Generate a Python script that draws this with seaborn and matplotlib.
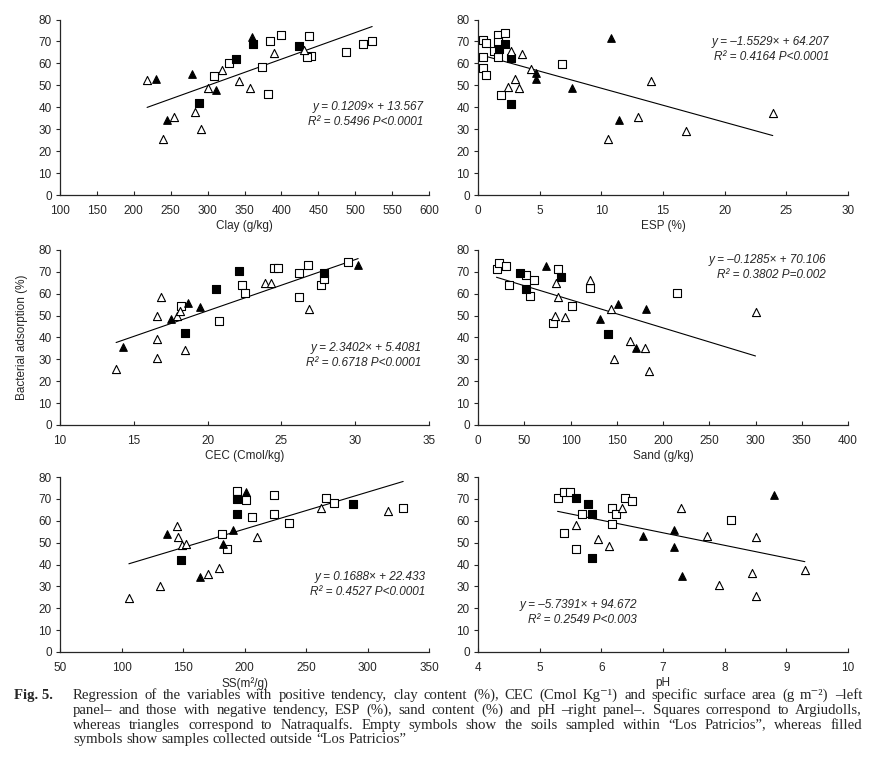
import numpy as np
import pandas as pd
import matplotlib
matplotlib.use("Agg")
import matplotlib.pyplot as plt
import seaborn as sns

# ---- data (x, y) per group ----
# groups: os = open square (Argiudoll, inside), fs = filled square (Argiudoll, outside)
#         ot = open triangle (Natraqualf, inside), ft = filled triangle (Natraqualf, outside)

clay_os_x = [309, 329, 374, 382, 385, 400, 438, 440, 435, 488, 510, 523]
clay_os_y = [54.3, 60.2, 58.4, 46.0, 70.0, 73.0, 72.4, 63.3, 62.7, 65.2, 68.8, 70.1]
clay_fs_x = [289, 339, 362, 424]
clay_fs_y = [41.8, 62.2, 68.9, 68.1]
clay_ot_x = [218, 240, 255, 283, 291, 300, 320, 342, 357, 390, 431]
clay_ot_y = [52.6, 25.5, 35.5, 37.8, 30.2, 48.9, 57.2, 51.8, 48.6, 64.6, 66.0]
clay_ft_x = [230, 245, 279, 311, 360]
clay_ft_y = [52.9, 34.3, 55.0, 48.0, 72.0]

esp_os_x = [0.43, 0.65, 0.38, 0.38, 0.65, 1.6, 2.15, 1.6, 1.33, 1.6, 1.85, 6.8]
esp_os_y = [70.5, 69.5, 62.9, 58.0, 54.5, 73.0, 73.9, 69.6, 65.6, 62.9, 45.6, 59.8]
esp_fs_x = [2.15, 1.71, 2.69, 2.69]
esp_fs_y = [69.0, 66.7, 62.6, 41.5]
esp_ot_x = [2.69, 3.56, 4.3, 3.02, 2.42, 3.34, 14.0, 13.0, 10.5, 16.9, 23.9]
esp_ot_y = [65.5, 64.4, 57.4, 53.0, 49.3, 48.9, 52.0, 35.5, 25.5, 29.3, 37.5]
esp_ft_x = [4.73, 4.73, 7.6, 10.8, 11.4]
esp_ft_y = [55.6, 53.0, 49.0, 71.7, 34.2]

cec_os_x = [18.2, 20.8, 22.36, 22.55, 24.5, 24.8, 26.2, 26.8, 26.2, 27.7, 27.9, 29.5]
cec_os_y = [54.4, 47.4, 64.0, 60.4, 71.9, 71.9, 69.6, 73.2, 58.7, 64.1, 66.7, 74.6]
cec_fs_x = [18.5, 20.6, 22.16, 27.9]
cec_fs_y = [42.2, 62.4, 70.2, 69.4]
cec_ot_x = [13.8, 16.6, 16.6, 16.6, 16.84, 18.48, 17.9, 18.1, 23.86, 24.3, 26.9]
cec_ot_y = [25.8, 30.4, 39.1, 49.8, 58.3, 34.3, 49.8, 52.0, 65.1, 65.1, 52.9]
cec_ft_x = [14.27, 17.55, 18.7, 19.5, 30.2]
cec_ft_y = [35.6, 48.6, 55.7, 54.1, 73.1]

sand_os_x = [20, 23, 30, 34, 52, 60, 56, 87, 81, 102, 121, 215]
sand_os_y = [71.3, 74.0, 72.8, 63.9, 68.8, 66.2, 58.9, 71.4, 46.5, 54.6, 62.5, 60.5]
sand_fs_x = [45, 52, 90, 140]
sand_fs_y = [69.4, 62.4, 67.7, 41.6]
sand_ot_x = [84, 87, 83, 94, 121, 144, 164, 180, 147, 185, 300]
sand_ot_y = [64.7, 58.3, 49.7, 49.4, 66.5, 52.9, 38.3, 35.3, 30.2, 24.6, 51.6]
sand_ft_x = [73, 132, 151, 182, 171]
sand_ft_y = [72.5, 48.3, 55.4, 53.0, 35.3]

ss_os_x = [193.5, 201, 206, 224, 224, 236, 182, 185.5, 266, 273, 329]
ss_os_y = [73.4, 69.6, 61.5, 71.9, 63.2, 59.1, 54.0, 46.9, 70.2, 68.1, 66.0]
ss_fs_x = [193.5, 193.5, 148, 288]
ss_fs_y = [69.9, 63.2, 42.1, 67.5]
ss_ot_x = [106, 131.5, 145, 146, 149, 152.6, 170, 179, 210, 262, 317]
ss_ot_y = [24.6, 30.2, 57.7, 52.8, 49.0, 49.3, 35.6, 38.3, 52.8, 65.8, 64.4]
ss_ft_x = [137, 164, 182.5, 191, 201]
ss_ft_y = [54.0, 34.5, 49.5, 55.9, 73.1]

ph_os_x = [5.29, 5.39, 5.49, 5.68, 5.39, 5.59, 6.17, 6.23, 6.17, 6.38, 6.49, 8.11]
ph_os_y = [70.5, 73.0, 73.0, 63.2, 54.4, 47.2, 66.0, 63.2, 58.3, 70.5, 68.9, 60.2]
ph_fs_x = [5.59, 5.79, 5.85, 5.85]
ph_fs_y = [70.2, 67.6, 63.2, 42.9]
ph_ot_x = [5.59, 5.95, 6.12, 6.33, 7.29, 7.71, 8.51, 7.91, 8.45, 8.51, 9.3]
ph_ot_y = [58.0, 51.6, 48.5, 66.0, 66.0, 53.1, 52.8, 30.8, 36.0, 25.6, 37.4]
ph_ft_x = [6.68, 7.18, 7.18, 7.31, 8.8]
ph_ft_y = [53.0, 55.7, 47.9, 34.8, 71.8]

# regression coefficients as printed
slopes = [0.1209, -1.5529, 2.3402, -0.1285, 0.1688, -5.7391]
intercepts = [13.567, 64.207, 5.4081, 70.106, 22.433, 94.672]
eq_lines = [
    ("y = 0.1209\u00d7 + 13.567", "R\u00b2 = 0.5496 P<0.0001"),
    ("y = \u20131.5529\u00d7 + 64.207", "R\u00b2 = 0.4164 P<0.0001"),
    ("y = 2.3402\u00d7 + 5.4081", "R\u00b2 = 0.6718 P<0.0001"),
    ("y = \u20130.1285\u00d7 + 70.106", "R\u00b2 = 0.3802 P=0.002"),
    ("y = 0.1688\u00d7 + 22.433", "R\u00b2 = 0.4527 P<0.0001"),
    ("y = \u20135.7391\u00d7 + 94.672", "R\u00b2 = 0.2549 P<0.003"),
]
xlabels = ["Clay (g/kg)", "ESP (%)", "CEC (Cmol/kg)", "Sand (g/kg)", "SS(m\u00b2/g)", "pH"]
xlims = [(100, 600), (0, 30), (10, 35), (0, 400), (50, 350), (4, 10)]
xsteps = [50, 5, 5, 50, 50, 1]

panels = [
    (clay_os_x, clay_os_y, clay_fs_x, clay_fs_y, clay_ot_x, clay_ot_y, clay_ft_x, clay_ft_y),
    (esp_os_x, esp_os_y, esp_fs_x, esp_fs_y, esp_ot_x, esp_ot_y, esp_ft_x, esp_ft_y),
    (cec_os_x, cec_os_y, cec_fs_x, cec_fs_y, cec_ot_x, cec_ot_y, cec_ft_x, cec_ft_y),
    (sand_os_x, sand_os_y, sand_fs_x, sand_fs_y, sand_ot_x, sand_ot_y, sand_ft_x, sand_ft_y),
    (ss_os_x, ss_os_y, ss_fs_x, ss_fs_y, ss_ot_x, ss_ot_y, ss_ft_x, ss_ft_y),
    (ph_os_x, ph_os_y, ph_fs_x, ph_fs_y, ph_ot_x, ph_ot_y, ph_ft_x, ph_ft_y),
]

# equation text anchor (axes fraction, right edge)
eq_pos = [(0.985, 0.50), (0.95, 0.87), (0.98, 0.44), (0.94, 0.94), (0.99, 0.43), (0.43, 0.27)]

sns.set_style("ticks")
plt.rcParams["font.family"] = ["Liberation Sans", "DejaVu Sans"]

W, H = 874, 775
fig = plt.figure(figsize=(W / 100, H / 100), dpi=100)

lefts = [60, 478]
widths = [369, 370]
rows = [(19.5, 195), (250, 425), (477, 652)]

groups = [("s", "white", 26), ("s", "black", 26), ("^", "white", 34), ("^", "black", 30)]

for i, pdata in enumerate(panels):
    r, c = divmod(i, 2)
    top, bot = rows[r]
    ax = fig.add_axes([lefts[c] / W, 1 - bot / H, widths[c] / W, (bot - top) / H])

    allx = []
    for g, (mk, fc, sz) in enumerate(groups):
        gx, gy = pdata[2 * g], pdata[2 * g + 1]
        allx += list(gx)
        df = pd.DataFrame({"x": gx, "y": gy})
        sns.scatterplot(data=df, x="x", y="y", ax=ax, marker=mk, color=fc,
                        edgecolor="black", linewidth=0.8, s=sz, zorder=3)

    xs = np.array([min(allx), max(allx)])
    line = pd.DataFrame({"x": xs, "y": slopes[i] * xs + intercepts[i]})
    sns.lineplot(data=line, x="x", y="y", ax=ax, color="black", linewidth=0.8, zorder=2)

    x0, x1 = xlims[i]
    ax.set_xlim(x0, x1)
    ax.set_ylim(0, 80)
    ax.set_xticks(np.arange(x0, x1 + xsteps[i] / 2, xsteps[i]))
    ax.set_yticks(range(0, 81, 10))
    ax.tick_params(axis="x", direction="in", length=3, width=0.8, labelsize=8.5, pad=7.5)
    ax.tick_params(axis="y", direction="out", length=3, width=0.8, labelsize=8.5, pad=3)
    for s in ["top", "right"]:
        ax.spines[s].set_visible(False)
    for s in ["left", "bottom"]:
        ax.spines[s].set_linewidth(0.9)
    ax.set_xlabel(xlabels[i], fontsize=8.5, labelpad=2)
    ax.set_ylabel("")

    ex, ey = eq_pos[i]
    ax.text(ex, ey, eq_lines[i][0], transform=ax.transAxes, ha="right", va="center",
            fontsize=8.5, style="italic")
    ax.text(ex, ey - 0.085, eq_lines[i][1], transform=ax.transAxes, ha="right", va="center",
            fontsize=8.5, style="italic")

fig.text(22 / W, 1 - 337 / H, "Bacterial adsorption (%)", rotation=90, ha="center",
         va="center", fontsize=8.5)

# caption, justified between x=73 and x=862
serif = ["Liberation Serif", "DejaVu Serif"]
cap_size = 10.6
fig.text(14 / W, 1 - 695.5 / H, "Fig. 5.", fontsize=cap_size, fontweight="bold", family=serif,
         va="center")
caption = [
    "Regression of the variables with positive tendency, clay content (%), CEC (Cmol Kg\u207b\u00b9) and specific surface area (g m\u207b\u00b2) \u2013left",
    "panel\u2013 and those with negative tendency, ESP (%), sand content (%) and pH \u2013right panel\u2013. Squares correspond to Argiudolls,",
    "whereas triangles correspond to Natraqualfs. Empty symbols show the soils sampled within \u201cLos Patricios\u201d, whereas filled",
    "symbols show samples collected outside \u201cLos Patricios\u201d",
]
renderer = fig.canvas.get_renderer()
x_left, x_right = 73, 862
sp = fig.text(0, 0, "a a", fontsize=cap_size, family=serif)
sp2 = fig.text(0, 0, "aa", fontsize=cap_size, family=serif)
space_w = sp.get_window_extent(renderer).width - sp2.get_window_extent(renderer).width
sp.remove()
sp2.remove()
for k, line_txt in enumerate(caption):
    yk = 1 - (695.5 + 14.8 * k) / H
    words = line_txt.split(" ")
    texts = [fig.text(0, yk, w, fontsize=cap_size, family=serif, va="center") for w in words]
    wid = [t.get_window_extent(renderer).width for t in texts]
    if k < len(caption) - 1:
        gap = max(space_w, (x_right - x_left - sum(wid)) / (len(words) - 1))
    else:
        gap = space_w
    xpos = x_left
    for t, w in zip(texts, wid):
        t.set_x(xpos / W)
        xpos += w + gap

fig.savefig("out.png", dpi=100)
